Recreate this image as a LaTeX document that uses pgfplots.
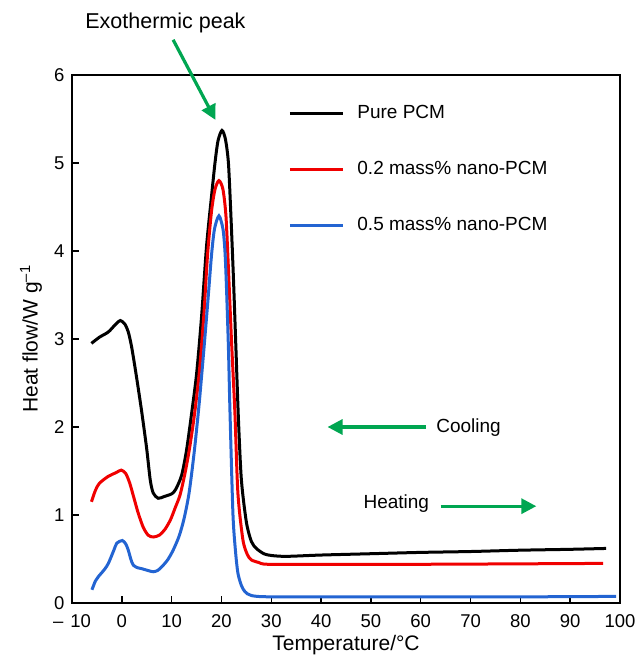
\documentclass[border=0pt]{standalone}
\usepackage{fontspec}
\setmainfont{Liberation Sans}
\usepackage{pgfplots}
\pgfplotsset{compat=1.18}
\usetikzlibrary{arrows.meta}
\definecolor{cred}{RGB}{240,0,0}
\definecolor{cblue}{RGB}{35,100,210}
\definecolor{cgreen}{RGB}{0,166,81}
\begin{document}
\begin{tikzpicture}
\begin{axis}[
  width=548pt, height=528pt, scale only axis,
  xmin=-10, xmax=100, ymin=0, ymax=6,
  xtick={-10,0,10,20,30,40,50,60,70,80,90,100},
  xticklabels={\textendash\hspace{7pt}10,0,10,20,30,40,50,60,70,80,90,100},
  ytick={0,1,2,3,4,5,6},
  tick align=inside, tick pos=left,
  major tick length=7pt,
  axis line style={line width=1.5pt},
  tick style={line width=1.5pt, black},
  tick label style={font=\fontsize{18.5}{21}\selectfont},
  xticklabel style={yshift=-8pt},
  yticklabel style={xshift=-4pt},
  /pgf/number format/assume math mode=true,
  xlabel={Temperature/°C},
  ylabel={Heat flow/W g\textsuperscript{\textendash1}},
  x label style={font=\fontsize{21}{24}\selectfont, at={(axis description cs:0.5,-0.08)}, anchor=center},
  y label style={font=\fontsize{21}{24}\selectfont, at={(axis description cs:-0.075,0.5)}, anchor=center},
  clip=false,
  legend style={draw=none, fill=none, at={(axis cs:33.4,5.67)}, anchor=north west,
    inner sep=0pt, row sep=38pt, column sep=13pt,
    font=\fontsize{19}{22}\selectfont,
    nodes={inner sep=0pt, text height=14pt, text depth=4pt}},
  legend cell align=left,
  legend image code/.code={\draw[#1] (0pt,0pt) -- (53pt,0pt);},
  every axis plot/.append style={line width=3pt, smooth, tension=0.45},
]
\addplot[black] coordinates {
(-6.1,2.95) (-4.5,3.02) (-2.7,3.08) (-1.2,3.17) (-0.3,3.21) (0.6,3.17) (1.3,3.08)
(2.0,2.90) (3.0,2.55) (4.0,2.17) (5.0,1.75) (5.7,1.40) (6.3,1.25) (7.3,1.19)
(8.5,1.21) (10.0,1.24) (10.8,1.29) (12.0,1.45) (13.0,1.74) (14.0,2.15) (15.0,2.60)
(16.0,3.25) (17.0,4.05) (18.0,4.62) (18.7,5.00) (19.3,5.25) (20.1,5.37) (20.8,5.27)
(21.4,5.00) (21.9,4.40) (22.4,3.70) (22.9,2.90) (23.4,2.10) (24.0,1.40) (25.0,0.92)
(26.0,0.70) (27.0,0.62) (28.5,0.56) (30,0.54) (33,0.53) (40,0.545) (50,0.56)
(60,0.575) (70,0.585) (80,0.60) (90,0.61) (97.2,0.62)
};
\addlegendentry{Pure PCM}
\addplot[cred] coordinates {
(-6.1,1.15) (-5.3,1.28) (-4.5,1.36) (-2.7,1.44) (-1.2,1.48) (-0.1,1.51) (0.8,1.47)
(1.6,1.36) (2.5,1.18) (3.3,1.02) (4.3,0.86) (5.3,0.77) (6.3,0.75) (7.5,0.77)
(8.7,0.84) (9.8,0.95) (10.7,1.08) (11.7,1.23) (12.7,1.48) (13.6,1.76) (14.6,2.15)
(15.6,2.65) (16.5,3.30) (17.2,3.95) (18.0,4.45) (18.7,4.70) (19.5,4.80) (20.3,4.70)
(20.9,4.40) (21.4,3.80) (22.0,3.00) (22.7,2.16) (23.3,1.25) (24.3,0.72) (25.2,0.55)
(26.0,0.49) (27.5,0.46) (29.3,0.44) (40,0.44) (60,0.44) (80,0.445) (96.6,0.45)
};
\addlegendentry{0.2 mass\% nano-PCM}
\addplot[cblue] coordinates {
(-6.0,0.15) (-5.3,0.25) (-4.7,0.30) (-3.5,0.38) (-2.7,0.45) (-1.6,0.60) (-1.0,0.68)
(0.1,0.71) (0.8,0.67) (1.3,0.60) (1.8,0.50) (2.3,0.43) (3.2,0.40) (4.0,0.39)
(5.2,0.37) (6.3,0.355) (7.2,0.37) (8.0,0.41) (9.2,0.49) (10.3,0.60) (11.5,0.76)
(12.5,0.96) (13.5,1.25) (14.5,1.70) (15.5,2.25) (16.5,2.90) (17.3,3.45) (18.0,3.95)
(18.6,4.25) (19.5,4.40) (20.3,4.25) (20.7,4.00) (21.0,3.60) (21.4,2.90) (21.7,2.20)
(22.3,1.02) (22.8,0.60) (23.3,0.34) (24.0,0.20) (24.7,0.13) (26.0,0.085) (30,0.07)
(50,0.07) (80,0.07) (99.2,0.075)
};
\addlegendentry{0.5 mass\% nano-PCM}
\draw[cgreen, line width=3.2pt, -{Triangle[length=15pt,width=15pt]}] (axis cs:10.3,6.40) -- (axis cs:18.8,5.49);
\node[font=\fontsize{21.5}{24}\selectfont] at (axis cs:8.76,6.59) {Exothermic peak};
\draw[cgreen, line width=3.2pt, -{Triangle[length=15pt,width=15pt]}] (axis cs:61,2.0) -- (axis cs:41.3,2.0);
\node[font=\fontsize{19}{22}\selectfont] at (axis cs:69.6,1.99) {Cooling};
\node[font=\fontsize{19}{22}\selectfont] at (axis cs:55.1,1.125) {Heating};
\draw[cgreen, line width=3.2pt, -{Triangle[length=15pt,width=15pt]}] (axis cs:64,1.1) -- (axis cs:83.2,1.1);
\end{axis}
\pgfresetboundingbox
\path ([shift={(-72pt,-56pt)}]current axis.south west) rectangle ([shift={(19pt,75pt)}]current axis.north east);
\end{tikzpicture}
\end{document}
